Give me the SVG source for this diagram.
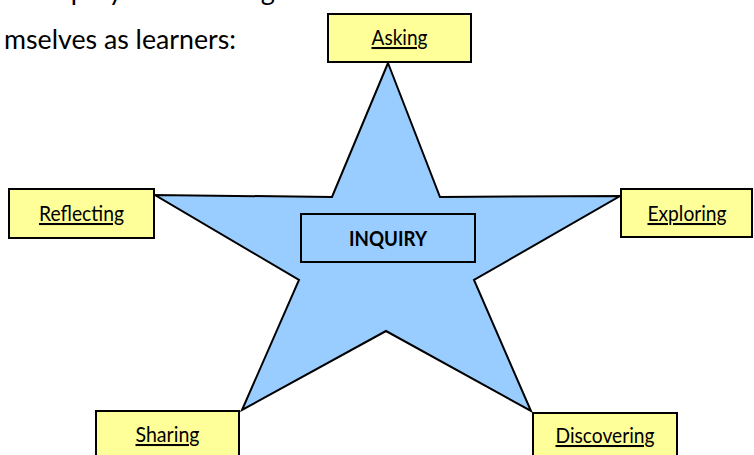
<svg xmlns="http://www.w3.org/2000/svg" width="754" height="455" viewBox="0 0 754 455">
<style>
  .box { fill: #FFFF99; stroke: #000; stroke-width: 2; }
  .star { fill: #99CCFF; stroke: #000; stroke-width: 2; stroke-linejoin: miter; }
  .core { fill: #99CCFF; stroke: #000; stroke-width: 2; }
  .lbl { font-family: Lato, "Open Sans", "Liberation Sans", sans-serif; font-size: 20.5px; fill: #000; text-anchor: middle; text-decoration: underline; }
  .main { font-family: Lato, "Open Sans", "Liberation Sans", sans-serif; font-size: 21px; font-weight: bold; fill: #000; text-anchor: middle; }
  .body { font-family: Lato, "Open Sans", "Liberation Sans", sans-serif; font-size: 27px; fill: #000; }
</style>
<rect width="754" height="455" fill="#fff"/>
<g id="intro">
  <text class="body" x="40" y="-0.5" textLength="235" lengthAdjust="spacingAndGlyphs">inquiry and learning</text>
  <text class="body" x="4" y="49" textLength="232" lengthAdjust="spacingAndGlyphs">mselves as learners:</text>
</g>
<g id="star">
  <polygon class="star" points="388,63 440,197 620,196 474,280 531,411 386,331 242,410 299,280 155,195 332,197"/>
</g>
<g id="connectors"></g>
<g id="inquiry">
  <rect class="core" x="301" y="214" width="174" height="48"/>
  <text class="main" x="388" y="246" textLength="78" lengthAdjust="spacingAndGlyphs">INQUIRY</text>
</g>
<g id="asking">
  <rect class="box" x="328" y="14" width="143" height="48"/>
  <text class="lbl" x="399.5" y="45" textLength="56" lengthAdjust="spacingAndGlyphs">Asking</text>
</g>
<g id="reflecting">
  <rect class="box" x="9" y="189" width="145" height="49"/>
  <text class="lbl" x="81.5" y="221" textLength="85" lengthAdjust="spacingAndGlyphs">Reflecting</text>
</g>
<g id="exploring">
  <rect class="box" x="621" y="189" width="131" height="48"/>
  <text class="lbl" x="687" y="221" textLength="79" lengthAdjust="spacingAndGlyphs">Exploring</text>
</g>
<g id="sharing">
  <rect class="box" x="96" y="411" width="143" height="50"/>
  <text class="lbl" x="167.5" y="442" textLength="64" lengthAdjust="spacingAndGlyphs">Sharing</text>
</g>
<g id="discovering">
  <rect class="box" x="533" y="413" width="144" height="50"/>
  <text class="lbl" x="605" y="443" textLength="99" lengthAdjust="spacingAndGlyphs">Discovering</text>
</g>
</svg>
